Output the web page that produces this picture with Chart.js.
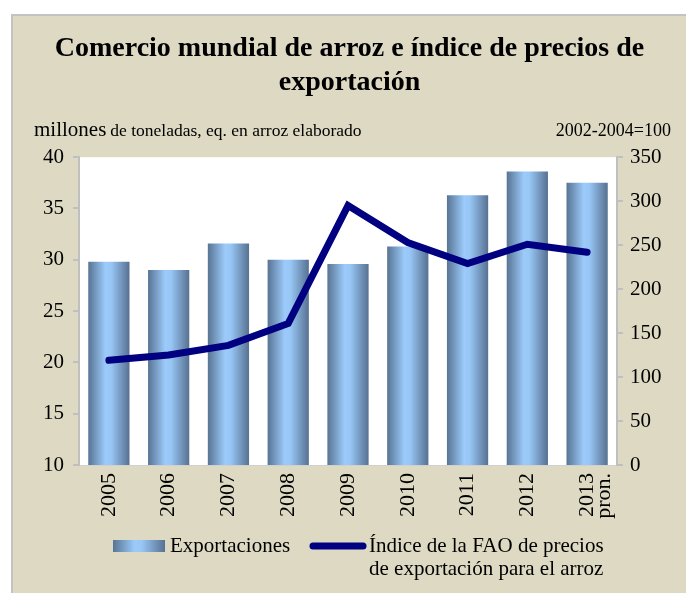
<!DOCTYPE html>
<html>
<head>
<meta charset="utf-8">
<script src="https://cdn.jsdelivr.net/npm/chart.js@4.4.1/dist/chart.umd.min.js"></script>
<style>
  body { margin: 0; background: #fff; }
  #frame {
    position: absolute; left: 11px; top: 14px; width: 675px; height: 579px;
    box-sizing: border-box; background: #ddd9c3;
    border-left: 2px solid #c3c3c3; border-top: 2px solid #c3c3c3;
  }
  canvas { display: block; }
</style>
</head>
<body>
<div id="frame"><canvas id="chart-rice" width="673" height="577"></canvas></div>
<script>
var years = ['2005', '2006', '2007', '2008', '2009', '2010', '2011', '2012', ['2013', 'pron.']];
var exportaciones = [29.8, 29.0, 31.6, 30.0, 29.6, 31.3, 36.3, 38.6, 37.5];
var indicePrecios = [119, 125, 136, 161, 295, 253, 229, 251, 242];
var leftTicks = { min: 10, max: 40, step: 5 };
var rightTicks = { min: 0, max: 350, step: 50 };

var serif = 'Liberation Serif, Times New Roman, serif';
var barPct = 0.69;

function barGradient(c, x0, x1) {
  var g = c.createLinearGradient(x0, 0, x1, 0);
  g.addColorStop(0, '#587493');
  g.addColorStop(0.42, '#9ccbfb');
  g.addColorStop(0.55, '#98c7f6');
  g.addColorStop(1, '#577191');
  return g;
}

var plotBg = {
  id: 'plotBg',
  beforeDraw: function (chart) {
    var a = chart.chartArea, c = chart.ctx;
    c.save();
    c.fillStyle = '#ffffff';
    c.fillRect(a.left, a.top, a.right - a.left, a.bottom - a.top);
    c.restore();
  }
};

var extras = {
  id: 'extras',
  afterDraw: function (chart) {
    var c = chart.ctx;
    c.save();
    c.fillStyle = '#000';
    c.textBaseline = 'alphabetic';
    // unit labels
    c.textAlign = 'left';
    c.font = '21px ' + serif;
    c.fillText('millones', 21, 120);
    var w = c.measureText('millones').width + 4;
    c.font = '17.5px ' + serif;
    c.fillText('de toneladas, eq. en arroz elaborado', 21 + w, 120);
    c.textAlign = 'right';
    c.font = '18px ' + serif;
    c.fillText('2002-2004=100', 658, 120);

    // legend
    c.textBaseline = 'middle';
    c.fillStyle = barGradient(c, 100, 152);
    c.fillRect(100, 524, 52, 12);
    c.fillStyle = '#000';
    c.textAlign = 'left';
    c.font = '21px ' + serif;
    c.fillText('Exportaciones', 157, 530);
    c.strokeStyle = '#000080';
    c.lineWidth = 7;
    c.lineCap = 'round';
    c.beginPath();
    c.moveTo(300, 530);
    c.lineTo(350, 530);
    c.stroke();
    c.fillText('Índice de la FAO de precios', 356, 530);
    c.fillText('de exportación para el arroz', 356, 553);
    c.restore();
  }
};

var ctx = document.getElementById('chart-rice').getContext('2d');

var chart = new Chart(ctx, {
  type: 'bar',
  data: {
    labels: years,
    datasets: [{
      type: 'line',
      label: 'Índice de la FAO de precios de exportación para el arroz',
      data: indicePrecios,
      yAxisID: 'y1',
      borderColor: '#000080',
      borderWidth: 7,
      pointRadius: 0,
      borderCapStyle: 'round',
      tension: 0,
      order: 0
    }, {
      label: 'Exportaciones',
      data: exportaciones,
      yAxisID: 'y',
      backgroundColor: function (context) {
        var ch = context.chart, sx = ch.scales.x;
        if (!sx || !ch.chartArea) return '#7fa7d0';
        var cx = sx.getPixelForValue(context.dataIndex);
        var hw = (sx.width / years.length) * barPct / 2;
        return barGradient(ch.ctx, cx - hw, cx + hw);
      },
      categoryPercentage: 1,
      barPercentage: barPct,
      order: 1
    }]
  },
  options: {
    responsive: false,
    animation: false,
    layout: { padding: { left: 0, right: 0, top: 0, bottom: 0 } },
    plugins: {
      legend: { display: false },
      tooltip: { enabled: false },
      title: {
        display: true,
        text: ['Comercio mundial de arroz e índice de precios de', 'exportación'],
        color: '#000',
        font: { family: serif, size: 28, weight: 'bold', lineHeight: 1.2 },
        padding: { top: 16, bottom: 58 }
      }
    },
    scales: {
      x: {
        grid: { display: false },
        border: { display: true, color: '#d0d0d0', width: 1 },
        ticks: {
          color: '#000',
          font: { family: serif, size: 22, lineHeight: 0.8 },
          minRotation: 90,
          maxRotation: 90,
          autoSkip: false,
          padding: 0
        },
        afterFit: function (s) { s.height = 128; }
      },
      y: {
        position: 'left',
        min: leftTicks.min,
        max: leftTicks.max,
        ticks: { stepSize: leftTicks.step, color: '#000', font: { family: serif, size: 21 }, padding: 9 },
        grid: { drawOnChartArea: false, color: '#bfbfbf', tickLength: 6, lineWidth: 2 },
        border: { color: '#bfbfbf', width: 2 },
        afterFit: function (s) { s.width = 66; }
      },
      y1: {
        position: 'right',
        min: rightTicks.min,
        max: rightTicks.max,
        ticks: { stepSize: rightTicks.step, color: '#000', font: { family: serif, size: 21 }, padding: 7 },
        grid: { drawOnChartArea: false, color: '#bfbfbf', tickLength: 6, lineWidth: 2 },
        border: { color: '#bfbfbf', width: 2 },
        afterFit: function (s) { s.width = 69; }
      }
    }
  },
  plugins: [plotBg, extras]
});
</script>
</body>
</html>
